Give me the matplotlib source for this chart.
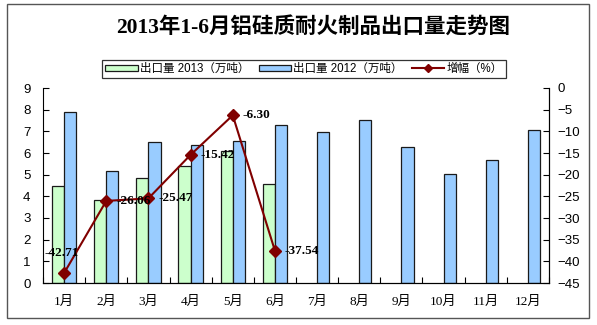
import numpy as np
import matplotlib.pyplot as plt
from matplotlib.patches import Rectangle, Patch
from matplotlib.lines import Line2D
from matplotlib.ticker import MultipleLocator

plt.rcParams['font.family'] = ['Liberation Sans', 'Noto Sans CJK SC']

# 月份与数据
months = ['1月', '2月', '3月', '4月', '5月', '6月',
          '7月', '8月', '9月', '10月', '11月', '12月']
export_2013 = [4.47, 3.82, 4.83, 5.40, 6.10, 4.58]
export_2012 = [7.87, 5.16, 6.49, 6.38, 6.54, 7.27,
               6.99, 7.52, 6.29, 5.02, 5.67, 7.08]
growth = [-42.71, -26.06, -25.47, -15.42, -6.30, -37.54]
growth_labels = ['-42.71', '-26.06', '-25.47', '-15.42', '-6.30', '-37.54']

green = '#CCFFCC'
blue = '#99CCFF'
red = '#800000'
serif_cjk = ['Liberation Serif', 'Noto Sans CJK SC']

fig = plt.figure(figsize=(5.97, 3.25), dpi=100)
fig.patches.append(Rectangle((7 / 597, 1 - 318 / 325), 582 / 597, 314 / 325,
                             transform=fig.transFigure, fill=False,
                             edgecolor='#555555', linewidth=1.0))

ax = fig.add_axes([43 / 597, 1 - 283 / 325, 506 / 597, 195 / 325])
x = np.arange(len(months))
w = 0.29
ax.bar(x[:len(export_2013)] - w / 2, export_2013, w, color=green,
       edgecolor='#1a1a1a', linewidth=0.9)
ax.bar(x + w / 2, export_2012, w, color=blue, edgecolor='#1a1a1a', linewidth=0.9)
ax.set_xlim(-0.5, len(months) - 0.5)
ax.set_ylim(0, 9)
ax.yaxis.set_major_locator(MultipleLocator(1))
ax.set_xticks(x)
ax.set_xticklabels(months, family=serif_cjk, fontsize=9.5)
ax.set_xticks(np.arange(-0.5, len(months)), minor=True)
ax.tick_params(axis='x', which='major', length=0, pad=9)
ax.tick_params(axis='x', which='minor', direction='in', length=4, width=0.8)
ax.tick_params(axis='y', direction='in', length=4, width=0.8, pad=9, labelsize=9.5)
ax.spines['top'].set_visible(False)

ax2 = ax.twinx()
ax2.plot(x[:len(growth)], growth, color=red, linewidth=1.5, marker='D',
         markersize=6.5, markerfacecolor=red, markeredgecolor=red)
ax2.set_ylim(-45, 0)
ax2.yaxis.set_major_locator(MultipleLocator(5))
ax2.tick_params(axis='y', direction='in', length=4, width=0.8, pad=6, labelsize=9.5)
ax2.spines['top'].set_visible(False)
ax2.spines['left'].set_visible(False)

offsets = [(-2, 20), (10, 0), (10, 0), (10, 0), (10, 0), (10, 0)]
for i, (val, lab) in enumerate(zip(growth, growth_labels)):
    dx, dy = offsets[i]
    ha = 'center' if dx < 5 else 'left'
    ax2.annotate(lab, (x[i], val), xytext=(dx * 0.72, dy * 0.72),
                 textcoords='offset points', ha=ha, va='center',
                 fontsize=9.5, fontweight='bold', family='Liberation Serif')

fig.text(313 / 597, 1 - 27 / 325, '2013年1-6月铝硅质耐火制品出口量走势图',
         ha='center', va='center', fontsize=15.5, fontweight='bold',
         family=serif_cjk)

handles = [Patch(facecolor=green, edgecolor='#1a1a1a', linewidth=0.9),
           Patch(facecolor=blue, edgecolor='#1a1a1a', linewidth=0.9),
           Line2D([], [], color=red, linewidth=1.5, marker='D', markersize=4)]
labels = ['出口量 2013（万吨）', '出口量 2012（万吨）', '增幅（%）']
leg = fig.legend(handles, labels, loc='center', ncol=3,
                 bbox_to_anchor=(304 / 597, 1 - 69 / 325), fontsize=8.3,
                 frameon=True, fancybox=False, handlelength=2.8,
                 handleheight=0.45, handletextpad=0.2, columnspacing=0.8,
                 borderpad=0.3, borderaxespad=0)
leg.get_frame().set_edgecolor('black')
leg.get_frame().set_linewidth(0.9)

fig.savefig('out.png', dpi=100)
